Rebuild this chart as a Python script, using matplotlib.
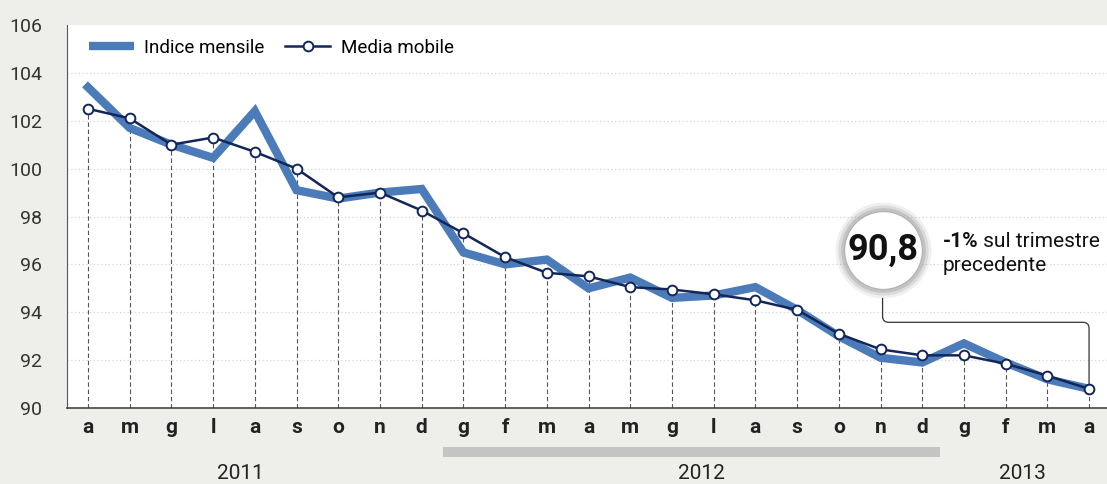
import matplotlib.pyplot as plt
from matplotlib.lines import Line2D
from matplotlib.patches import Rectangle, PathPatch
from matplotlib.path import Path
import matplotlib.transforms as mtransforms

plt.rcParams['font.family'] = ['Roboto', 'DejaVu Sans']

# data (apr 2011 - apr 2013)
mesi = ['a', 'm', 'g', 'l', 'a', 's', 'o', 'n', 'd',
        'g', 'f', 'm', 'a', 'm', 'g', 'l', 'a', 's', 'o', 'n', 'd',
        'g', 'f', 'm', 'a']
indice_mensile = [103.4, 101.7, 101.0, 100.45, 102.4, 99.1, 98.75, 99.0, 99.15,
                  96.5, 96.0, 96.2, 95.0, 95.45, 94.6, 94.7, 95.05, 94.1, 93.0, 92.1, 91.9,
                  92.7, 91.9, 91.2, 90.8]
media_mobile = [102.5, 102.1, 101.0, 101.3, 100.7, 100.0, 98.8, 99.0, 98.25,
                97.3, 96.3, 95.65, 95.5, 95.05, 94.95, 94.75, 94.5, 94.1, 93.1, 92.45, 92.2,
                92.2, 91.85, 91.35, 90.8]
anni = ['2011', '2012', '2013']
anni_pos = [3.65, 14.7, 22.4]
yticks = [90, 92, 94, 96, 98, 100, 102, 104, 106]

blu = '#4b7cb9'
navy = '#13265a'

fig = plt.figure(figsize=(11.07, 4.84), dpi=100, facecolor='#eeeeeb')
ax = fig.add_axes([67 / 1107, 76 / 484, 1040 / 1107, 383 / 484])
ax.set_facecolor('white')

x = list(range(len(mesi)))

# grid and drop lines
for v in yticks[1:-1]:
    ax.axhline(v, color='#d5d5d5', lw=0.9, ls=(0, (1, 2)), zorder=0)
ax.vlines(x, 90, media_mobile, colors='#555555', lw=0.8, linestyles=(0, (4, 2.5)), zorder=1)

ax.plot(x, indice_mensile, color=blu, lw=6, solid_joinstyle='miter', zorder=2)
ax.plot(x, media_mobile, color=navy, lw=1.8, marker='o', ms=7,
        mfc='white', mec=navy, mew=1.4, zorder=3)

ax.set_xlim(-0.503, 24.43)
ax.set_ylim(90, 106)
ax.set_xticks(x)
ax.set_xticklabels(mesi, fontsize=15, fontweight='bold', color='#222222')
ax.set_yticks(yticks)
ax.tick_params(axis='x', length=0, pad=7)
ax.tick_params(axis='y', length=0, pad=18, labelsize=14, labelcolor='#333333')
for s in ['top', 'right']:
    ax.spines[s].set_visible(False)
ax.spines['left'].set_color('#555555')
ax.spines['bottom'].set_color('#444444')
ax.spines['bottom'].set_linewidth(1.2)

# legend
handles = [Line2D([], [], color=blu, lw=6, solid_capstyle='butt'),
           Line2D([], [], color=navy, lw=1.8, marker='o', ms=7, mfc='white', mec=navy, mew=1.4)]
ax.legend(handles, ['Indice mensile', 'Media mobile'], loc='center left',
          bbox_to_anchor=(0.005, 0.94), ncol=2, frameon=False, fontsize=13.5,
          handlelength=2.4, handletextpad=0.55, columnspacing=1.1)

# year labels + grey band
tr = mtransforms.blended_transform_factory(ax.transData, ax.transAxes)
for lab, p in zip(anni, anni_pos):
    ax.text(p, -0.17, lab, transform=tr, ha='center', va='center', fontsize=15, color='#222222')
ax.add_patch(Rectangle((8.5, -0.128), 11.93, 0.026, transform=tr, color='#c4c4c4',
                       clip_on=False, lw=0))

# highlighted last value
cx, cy = 19.05, 96.6
for ms, a in [(69, 0.12), (65, 0.2), (61, 0.3)]:
    ax.plot(cx, cy, 'o', ms=ms, mfc='#8a8a8a', mec='none', alpha=a, zorder=4)
ax.plot(cx, cy, 'o', ms=56, mfc='white', mec='#b0b0b0', mew=0.8, zorder=5)
ax.text(cx, cy, '90,8', ha='center', va='center',
        fontsize=26, fontweight='bold', color='#111111', zorder=6)

t1 = ax.text(0.842, 0.42, '-1%', transform=ax.transAxes, ha='left', va='baseline',
             fontsize=15, fontweight='bold', color='#111111')
ax.annotate(' sul trimestre', xy=(1, 0), xycoords=t1, ha='left', va='bottom',
            fontsize=15, color='#111111')
ax.text(0.842, 0.357, 'precedente', transform=ax.transAxes, ha='left', va='baseline',
        fontsize=15, color='#111111')

# connector from the circle to the last point
y0, yh = 94.6, 93.58
x1, y1 = x[-1], media_mobile[-1] + 0.2
rx, ry = 0.15, 0.25
verts = [(cx, y0), (cx, yh + ry), (cx, yh), (cx + rx, yh),
         (x1 - rx, yh), (x1, yh), (x1, yh - ry), (x1, y1)]
codes = [Path.MOVETO, Path.LINETO, Path.CURVE3, Path.CURVE3,
         Path.LINETO, Path.CURVE3, Path.CURVE3, Path.LINETO]
ax.add_patch(PathPatch(Path(verts, codes), fill=False, edgecolor='#333333', lw=0.9, zorder=2))

fig.savefig('out.png', dpi=100, facecolor=fig.get_facecolor())
